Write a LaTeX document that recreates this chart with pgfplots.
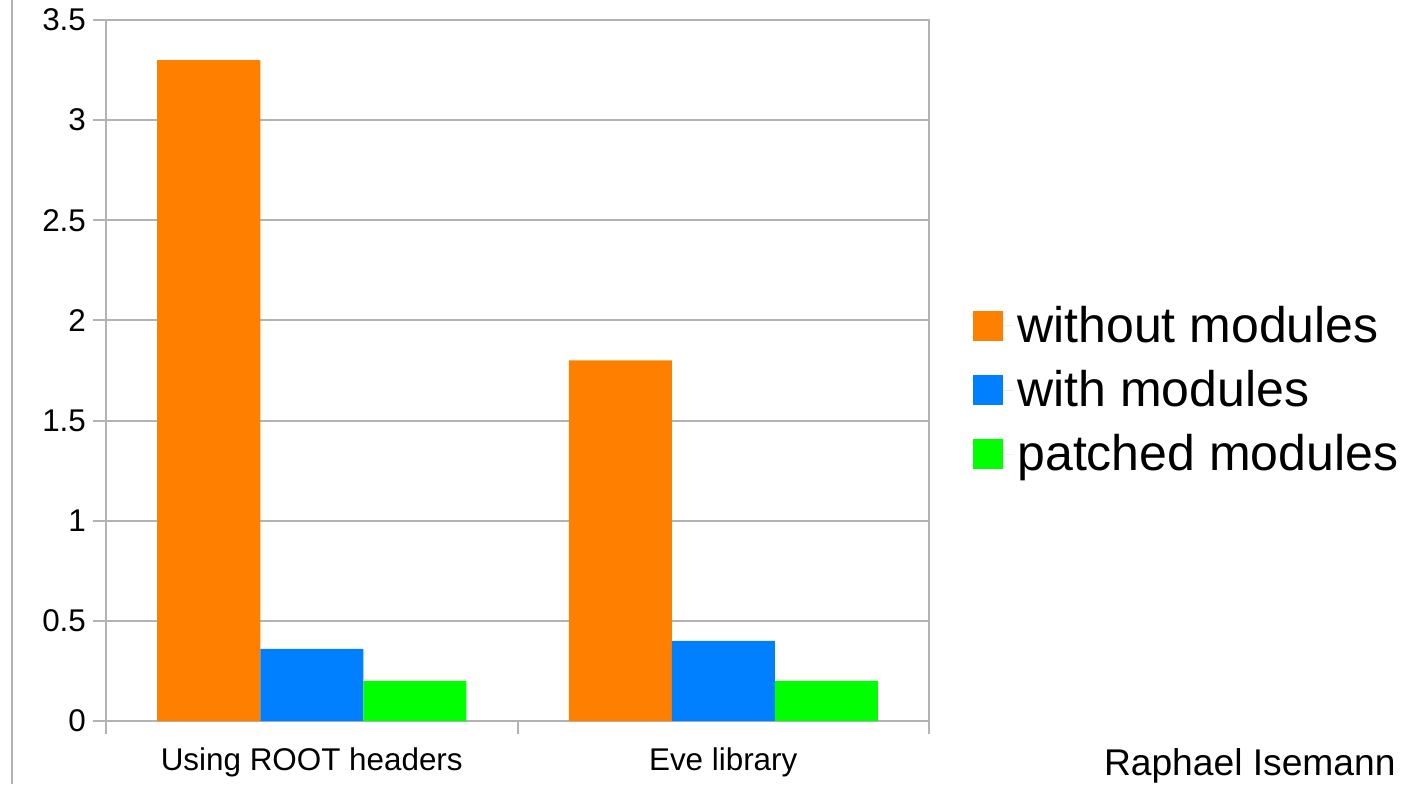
\documentclass[border=0pt]{standalone}
\usepackage{fontspec}
\setmainfont{Liberation Sans}
\usepackage{pgfplots}
\pgfplotsset{compat=1.18}
\definecolor{cOrange}{HTML}{FF8000}
\definecolor{cBlue}{HTML}{0080FF}
\definecolor{cGreen}{HTML}{00FF00}
\definecolor{cGrid}{HTML}{B3B3B3}
\begin{document}
\begin{tikzpicture}
\begin{axis}[
  at={(0pt,0pt)}, anchor=south west,
  scale only axis,
  width=411.5pt, height=350.5pt,
  ybar=0pt, bar width=51.5pt,
  xmin=-0.5, xmax=1.5,
  ymin=0, ymax=3.5,
  ytick={0,0.5,...,3.5},
  yticklabels={0,0.5,1,1.5,2,2.5,3,3.5},
  xtick={-0.5,0.5,1.5},
  xticklabels={},
  extra x ticks={0,1},
  extra x tick labels={Using ROOT headers, Eve library},
  extra x tick style={major tick length=0pt, grid=none, xticklabel style={yshift=-10pt}},
  major tick length=6.5pt,
  tick style={draw=cGrid, line width=1pt},
  tick align=outside,
  xtick pos=bottom, ytick pos=left,
  ymajorgrids,
  grid style={cGrid, line width=1pt},
  axis line style={cGrid, line width=1pt},
  tick label style={font=\fontsize{15.7}{18}\selectfont, text=black},
  /pgf/number format/assume math mode=true,
  legend style={at={(1.0535,0.472)}, anchor=west, draw=none, fill=none,
    font=\fontsize{25}{30}\selectfont, row sep=8.5pt, inner sep=0pt,
    cells={anchor=west}},
  legend image code/.code={\fill[#1] (0pt,-7.5pt) rectangle (15pt,7.5pt); \path (0pt,0pt) -- (20pt,0pt);},
]
\addplot[fill=cOrange, draw=none] coordinates {(0,3.3) (1,1.8)};
\addplot[fill=cBlue, draw=none] coordinates {(0,0.36) (1,0.4)};
\addplot[fill=cGreen, draw=none] coordinates {(0,0.2) (1,0.2)};
\legend{without modules, with modules, patched modules}
\end{axis}
\draw[cGrid, line width=0.8pt] (-47pt,-31.5pt) -- (-47pt,360.5pt);
\node[anchor=base east, inner sep=0pt, font=\fontsize{18.6}{22}\selectfont] at (645pt,-27pt) {Raphael Isemann};
\pgfresetboundingbox
\path (-53pt,-31.5pt) rectangle (649pt,360.5pt);
\end{tikzpicture}
\end{document}
